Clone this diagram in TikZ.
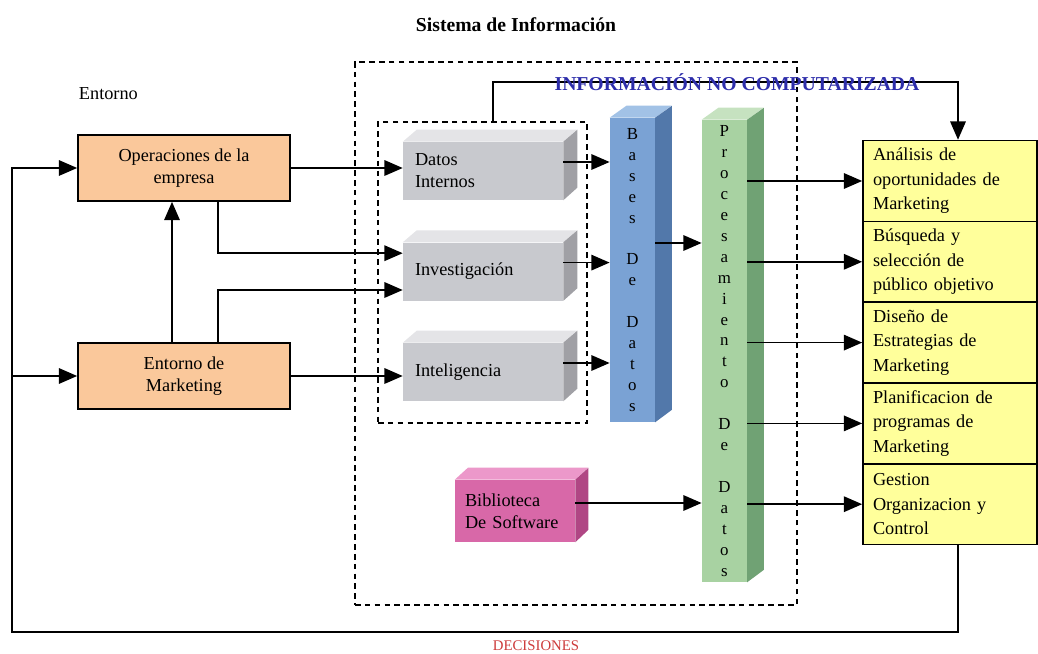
\documentclass[tikz,border=0pt]{standalone}
\usepackage{fontspec}
\setmainfont{Liberation Serif}
\usetikzlibrary{arrows.meta}

\definecolor{orangefill}{RGB}{250,200,155}
\definecolor{greyfront}{RGB}{200,201,206}
\definecolor{greytop}{RGB}{228,228,231}
\definecolor{greyside}{RGB}{160,160,165}
\definecolor{bluefront}{RGB}{122,162,212}
\definecolor{bluetop}{RGB}{162,194,230}
\definecolor{blueside}{RGB}{82,120,170}
\definecolor{greenfront}{RGB}{168,210,162}
\definecolor{greentop}{RGB}{198,226,192}
\definecolor{greenside}{RGB}{112,162,116}
\definecolor{pinkfront}{RGB}{216,104,168}
\definecolor{pinktop}{RGB}{236,152,202}
\definecolor{pinkside}{RGB}{176,70,132}
\definecolor{yellowfill}{RGB}{255,255,155}
\definecolor{infoblue}{RGB}{45,45,170}
\definecolor{decred}{RGB}{205,60,60}

\tikzset{
arr/.style={-{Triangle[length=13pt,width=11pt]}, line width=1.2pt},
envbox/.style={draw, line width=1.2pt, fill=orangefill, minimum width=5.3cm, minimum height=1.65cm, align=center},
greybox/.style={fill=greyfront, minimum width=4cm, minimum height=1.45cm, text width=3.4cm, inner xsep=0.3cm, align=left},
barbox/.style={minimum width=1.125cm, inner sep=0pt, align=center, font=\fontsize{12}{14.9}\selectfont},
actbox/.style={draw, line width=1.2pt, fill=yellowfill, minimum width=4.35cm, minimum height=2.02cm, text width=3.85cm, inner xsep=0.25cm, align=left, font=\fontsize{13}{17.5}\selectfont},
zone/.style={draw, line width=1.3pt, dash pattern=on 4pt off 3pt}
}

\begin{document}
\begin{tikzpicture}[font=\fontsize{13}{15.5}\selectfont]

\useasboundingbox (0,0) rectangle (25.95,-16.35);

% titles
\node[font=\fontsize{14}{16}\selectfont\bfseries] (titulo) at (12.9,-0.62) {Sistema de Información};
\node[anchor=west] (entorno) at (1.85,-2.33) {Entorno};

% containers
\node[zone, minimum width=11.05cm, minimum height=13.575cm] (sisinfo) at (14.4,-8.3375) {};
\node[zone, minimum width=5.225cm, minimum height=7.525cm] (fuentes) at (12.0625,-6.8125) {};

% environment
\node[envbox] (ope) at (4.6,-4.2) {Operaciones de la\\empresa};
\node[envbox] (emk) at (4.6,-9.4) {Entorno de\\Marketing};

% grey sources
\node[greybox] (din) at (12.075,-4.275) {Datos\\Internos};
\fill[greytop] (din.north west) -- ++(0.35,0.3) -- ++(4,0) -- (din.north east) -- cycle;
\fill[greyside] (din.north east) -- ++(0.35,0.3) -- ++(0,-1.45) -- (din.south east) -- cycle;
\node[greybox] (inv) at (12.075,-6.79) {Investigación};
\fill[greytop] (inv.north west) -- ++(0.35,0.3) -- ++(4,0) -- (inv.north east) -- cycle;
\fill[greyside] (inv.north east) -- ++(0.35,0.3) -- ++(0,-1.45) -- (inv.south east) -- cycle;
\node[greybox] (intl) at (12.075,-9.3) {Inteligencia};
\fill[greytop] (intl.north west) -- ++(0.35,0.3) -- ++(4,0) -- (intl.north east) -- cycle;
\fill[greyside] (intl.north east) -- ++(0.35,0.3) -- ++(0,-1.45) -- (intl.south east) -- cycle;

% bars
\node[barbox, fill=bluefront, minimum height=7.6cm] (bdd) at (15.81,-6.75)
{B\\a\\s\\e\\s\\~\\D\\e\\~\\D\\a\\t\\o\\s};
\fill[bluetop] (bdd.north west) -- ++(0.42,0.3) -- ++(1.125,0) -- (bdd.north east) -- cycle;
\fill[blueside] (bdd.north east) -- ++(0.42,0.3) -- ++(0,-7.6) -- (bdd.south east) -- cycle;
\node[barbox, fill=greenfront, minimum height=11.55cm] (pdd) at (18.11,-8.775)
{P\\r\\o\\c\\e\\s\\a\\m\\i\\e\\n\\t\\o\\~\\D\\e\\~\\D\\a\\t\\o\\s};
\fill[greentop] (pdd.north west) -- ++(0.42,0.3) -- ++(1.125,0) -- (pdd.north east) -- cycle;
\fill[greenside] (pdd.north east) -- ++(0.42,0.3) -- ++(0,-11.55) -- (pdd.south east) -- cycle;

% software
\node[fill=pinkfront, minimum width=3cm, minimum height=1.55cm, text width=2.5cm, inner xsep=0.25cm, align=left] (bib) at (12.875,-12.775) {Biblioteca\\De Software};
\fill[pinktop] (bib.north west) -- ++(0.33,0.3) -- ++(3,0) -- (bib.north east) -- cycle;
\fill[pinkside] (bib.north east) -- ++(0.33,0.3) -- ++(0,-1.55) -- (bib.south east) -- cycle;

% marketing activities
\node[actbox] (ana) at (23.75,-4.525) {Análisis de\\oportunidades de\\Marketing};
\node[actbox] (bus) at (23.75,-6.545) {Búsqueda y\\selección de\\público objetivo};
\node[actbox] (dis) at (23.75,-8.565) {Diseño de\\Estrategias de\\Marketing};
\node[actbox] (pla) at (23.75,-10.585) {Planificacion de\\programas de\\Marketing};
\node[actbox] (ges) at (23.75,-12.605) {Gestion\\Organizacion y\\Control};

% helper coordinates
\coordinate (xa) at (5.45,0);
\coordinate (xb) at (4.3,0);
\coordinate (nc) at (23.95,-2.05);
\coordinate (dec1) at (23.95,-15.8);
\coordinate (dec2) at (0.3,-15.8);
\coordinate (d1) at ([yshift=0.225cm]din.east);
\coordinate (d2) at ([yshift=0.225cm]inv.east);
\coordinate (d3) at ([yshift=0.225cm]intl.east);
\coordinate (b1) at ([yshift=0.675cm]bdd.east);
\coordinate (s1) at ([yshift=0.2cm]bib.east);

% connectors
\draw[arr] (ope.east) -- (ope.east -| din.west);
\draw[arr] (ope.south -| xa) |- ([yshift=0.46cm]inv.west);
\draw[arr] (emk.north -| xb) -- (ope.south -| xb);
\draw[arr] (emk.north -| xa) |- ([yshift=-0.46cm]inv.west);
\draw[arr] (emk.east) -- (emk.east -| intl.west);

\draw[arr] (d1) -- (d1 -| bdd.west);
\draw[arr] (d2) -- (d2 -| bdd.west);
\draw[arr] (d3) -- (d3 -| bdd.west);
\draw[arr] (b1) -- (b1 -| pdd.west);
\draw[arr] (s1) -- (s1 -| pdd.west);

\draw[arr] (pdd.east |- ana.west) -- (ana.west);
\draw[arr] (pdd.east |- bus.west) -- (bus.west);
\draw[arr] (pdd.east |- dis.west) -- (dis.west);
\draw[arr] (pdd.east |- pla.west) -- (pla.west);
\draw[arr] (pdd.east |- ges.west) -- (ges.west);

\draw[arr] ([xshift=0.26cm]fuentes.north) |- (nc) -- (nc |- ana.north);
\node[font=\fontsize{14}{16}\selectfont\bfseries, text=infoblue] (nocomp) at (18.425,-2.05) {INFORMACIÓN NO COMPUTARIZADA};

\draw[arr] (ges.south -| dec1) -- (dec1) -- (dec2) |- (ope.west);
\draw[arr] (dec2 |- emk.west) -- (emk.west);
\node[font=\fontsize{10.5}{12}\selectfont, text=decred] (decis) at (13.4,-16.15) {DECISIONES};

\end{tikzpicture}
\end{document}
